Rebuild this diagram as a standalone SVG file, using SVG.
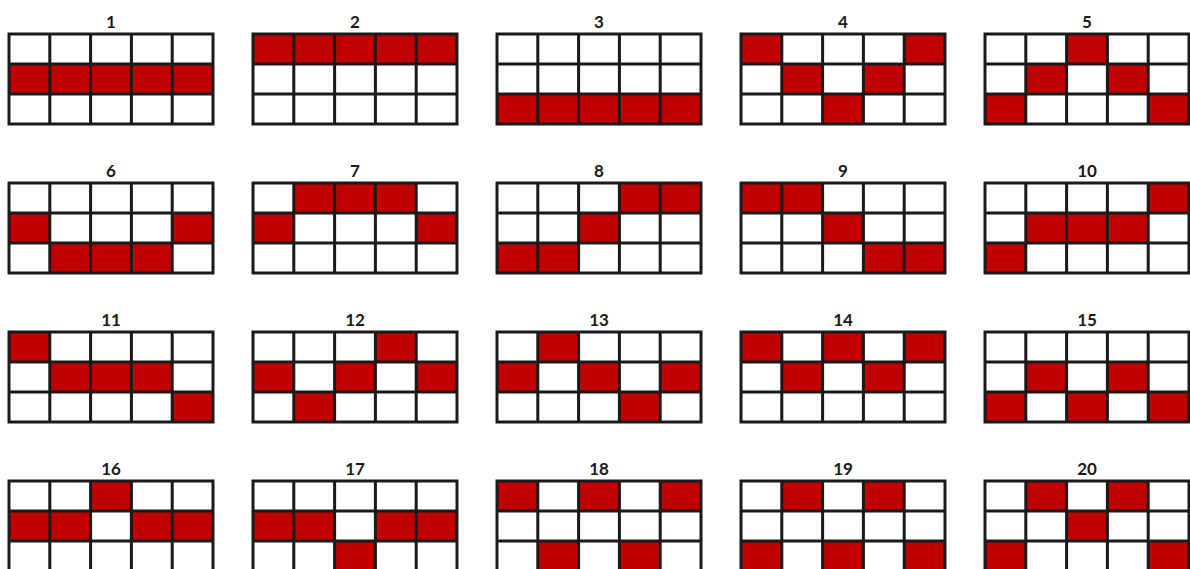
<svg xmlns="http://www.w3.org/2000/svg" xmlns:xlink="http://www.w3.org/1999/xlink" width="1190" height="569" viewBox="0 0 1190 569">
<style>
.r{fill:#c00000}
.bg{fill:#ffffff}
.ln{fill:none;stroke:#1a1a1a;stroke-width:3}
.lb{font-family:Lato,"Liberation Sans",sans-serif;font-weight:bold;font-size:17px;fill:#1a1a1a;text-anchor:middle}
</style>
<defs>
<rect id="bg" class="bg" x="0" y="0" width="204" height="90"/>
<path id="lines" class="ln" d="M0,0H204V90H0Z M40.8,0V90 M81.6,0V90 M122.4,0V90 M163.2,0V90 M0,30H204 M0,60H204"/>
</defs>
<rect width="1190" height="569" fill="#ffffff"/>
<g id="g1" transform="translate(9,34)"><use xlink:href="#bg"/><rect class="r" x="0" y="30" width="204" height="30"/><use xlink:href="#lines"/><text class="lb" x="102" y="-6">1</text></g>
<g id="g2" transform="translate(253,34)"><use xlink:href="#bg"/><rect class="r" x="0" y="0" width="204" height="30"/><use xlink:href="#lines"/><text class="lb" x="102" y="-6">2</text></g>
<g id="g3" transform="translate(497,34)"><use xlink:href="#bg"/><rect class="r" x="0" y="60" width="204" height="30"/><use xlink:href="#lines"/><text class="lb" x="102" y="-6">3</text></g>
<g id="g4" transform="translate(741,34)"><use xlink:href="#bg"/><rect class="r" x="0" y="0" width="40.8" height="30"/><rect class="r" x="163.2" y="0" width="40.8" height="30"/><rect class="r" x="40.8" y="30" width="40.8" height="30"/><rect class="r" x="122.4" y="30" width="40.8" height="30"/><rect class="r" x="81.6" y="60" width="40.8" height="30"/><use xlink:href="#lines"/><text class="lb" x="102" y="-6">4</text></g>
<g id="g5" transform="translate(985,34)"><use xlink:href="#bg"/><rect class="r" x="81.6" y="0" width="40.8" height="30"/><rect class="r" x="40.8" y="30" width="40.8" height="30"/><rect class="r" x="122.4" y="30" width="40.8" height="30"/><rect class="r" x="0" y="60" width="40.8" height="30"/><rect class="r" x="163.2" y="60" width="40.8" height="30"/><use xlink:href="#lines"/><text class="lb" x="102" y="-6">5</text></g>

<g id="g6" transform="translate(9,183)"><use xlink:href="#bg"/><rect class="r" x="0" y="30" width="40.8" height="30"/><rect class="r" x="163.2" y="30" width="40.8" height="30"/><rect class="r" x="40.8" y="60" width="122.4" height="30"/><use xlink:href="#lines"/><text class="lb" x="102" y="-6">6</text></g>
<g id="g7" transform="translate(253,183)"><use xlink:href="#bg"/><rect class="r" x="40.8" y="0" width="122.4" height="30"/><rect class="r" x="0" y="30" width="40.8" height="30"/><rect class="r" x="163.2" y="30" width="40.8" height="30"/><use xlink:href="#lines"/><text class="lb" x="102" y="-6">7</text></g>
<g id="g8" transform="translate(497,183)"><use xlink:href="#bg"/><rect class="r" x="122.4" y="0" width="81.6" height="30"/><rect class="r" x="81.6" y="30" width="40.8" height="30"/><rect class="r" x="0" y="60" width="81.6" height="30"/><use xlink:href="#lines"/><text class="lb" x="102" y="-6">8</text></g>
<g id="g9" transform="translate(741,183)"><use xlink:href="#bg"/><rect class="r" x="0" y="0" width="81.6" height="30"/><rect class="r" x="81.6" y="30" width="40.8" height="30"/><rect class="r" x="122.4" y="60" width="81.6" height="30"/><use xlink:href="#lines"/><text class="lb" x="102" y="-6">9</text></g>
<g id="g10" transform="translate(985,183)"><use xlink:href="#bg"/><rect class="r" x="163.2" y="0" width="40.8" height="30"/><rect class="r" x="40.8" y="30" width="122.4" height="30"/><rect class="r" x="0" y="60" width="40.8" height="30"/><use xlink:href="#lines"/><text class="lb" x="102" y="-6">10</text></g>

<g id="g11" transform="translate(9,332)"><use xlink:href="#bg"/><rect class="r" x="0" y="0" width="40.8" height="30"/><rect class="r" x="40.8" y="30" width="122.4" height="30"/><rect class="r" x="163.2" y="60" width="40.8" height="30"/><use xlink:href="#lines"/><text class="lb" x="102" y="-6">11</text></g>
<g id="g12" transform="translate(253,332)"><use xlink:href="#bg"/><rect class="r" x="122.4" y="0" width="40.8" height="30"/><rect class="r" x="0" y="30" width="40.8" height="30"/><rect class="r" x="81.6" y="30" width="40.8" height="30"/><rect class="r" x="163.2" y="30" width="40.8" height="30"/><rect class="r" x="40.8" y="60" width="40.8" height="30"/><use xlink:href="#lines"/><text class="lb" x="102" y="-6">12</text></g>
<g id="g13" transform="translate(497,332)"><use xlink:href="#bg"/><rect class="r" x="40.8" y="0" width="40.8" height="30"/><rect class="r" x="0" y="30" width="40.8" height="30"/><rect class="r" x="81.6" y="30" width="40.8" height="30"/><rect class="r" x="163.2" y="30" width="40.8" height="30"/><rect class="r" x="122.4" y="60" width="40.8" height="30"/><use xlink:href="#lines"/><text class="lb" x="102" y="-6">13</text></g>
<g id="g14" transform="translate(741,332)"><use xlink:href="#bg"/><rect class="r" x="0" y="0" width="40.8" height="30"/><rect class="r" x="81.6" y="0" width="40.8" height="30"/><rect class="r" x="163.2" y="0" width="40.8" height="30"/><rect class="r" x="40.8" y="30" width="40.8" height="30"/><rect class="r" x="122.4" y="30" width="40.8" height="30"/><use xlink:href="#lines"/><text class="lb" x="102" y="-6">14</text></g>
<g id="g15" transform="translate(985,332)"><use xlink:href="#bg"/><rect class="r" x="40.8" y="30" width="40.8" height="30"/><rect class="r" x="122.4" y="30" width="40.8" height="30"/><rect class="r" x="0" y="60" width="40.8" height="30"/><rect class="r" x="81.6" y="60" width="40.8" height="30"/><rect class="r" x="163.2" y="60" width="40.8" height="30"/><use xlink:href="#lines"/><text class="lb" x="102" y="-6">15</text></g>

<g id="g16" transform="translate(9,481)"><use xlink:href="#bg"/><rect class="r" x="81.6" y="0" width="40.8" height="30"/><rect class="r" x="0" y="30" width="81.6" height="30"/><rect class="r" x="122.4" y="30" width="81.6" height="30"/><use xlink:href="#lines"/><text class="lb" x="102" y="-6">16</text></g>
<g id="g17" transform="translate(253,481)"><use xlink:href="#bg"/><rect class="r" x="0" y="30" width="81.6" height="30"/><rect class="r" x="122.4" y="30" width="81.6" height="30"/><rect class="r" x="81.6" y="60" width="40.8" height="30"/><use xlink:href="#lines"/><text class="lb" x="102" y="-6">17</text></g>
<g id="g18" transform="translate(497,481)"><use xlink:href="#bg"/><rect class="r" x="0" y="0" width="40.8" height="30"/><rect class="r" x="81.6" y="0" width="40.8" height="30"/><rect class="r" x="163.2" y="0" width="40.8" height="30"/><rect class="r" x="40.8" y="60" width="40.8" height="30"/><rect class="r" x="122.4" y="60" width="40.8" height="30"/><use xlink:href="#lines"/><text class="lb" x="102" y="-6">18</text></g>
<g id="g19" transform="translate(741,481)"><use xlink:href="#bg"/><rect class="r" x="40.8" y="0" width="40.8" height="30"/><rect class="r" x="122.4" y="0" width="40.8" height="30"/><rect class="r" x="0" y="60" width="40.8" height="30"/><rect class="r" x="81.6" y="60" width="40.8" height="30"/><rect class="r" x="163.2" y="60" width="40.8" height="30"/><use xlink:href="#lines"/><text class="lb" x="102" y="-6">19</text></g>
<g id="g20" transform="translate(985,481)"><use xlink:href="#bg"/><rect class="r" x="40.8" y="0" width="40.8" height="30"/><rect class="r" x="122.4" y="0" width="40.8" height="30"/><rect class="r" x="81.6" y="30" width="40.8" height="30"/><rect class="r" x="0" y="60" width="40.8" height="30"/><rect class="r" x="163.2" y="60" width="40.8" height="30"/><use xlink:href="#lines"/><text class="lb" x="102" y="-6">20</text></g>
<g id="connectors"/>
</svg>
